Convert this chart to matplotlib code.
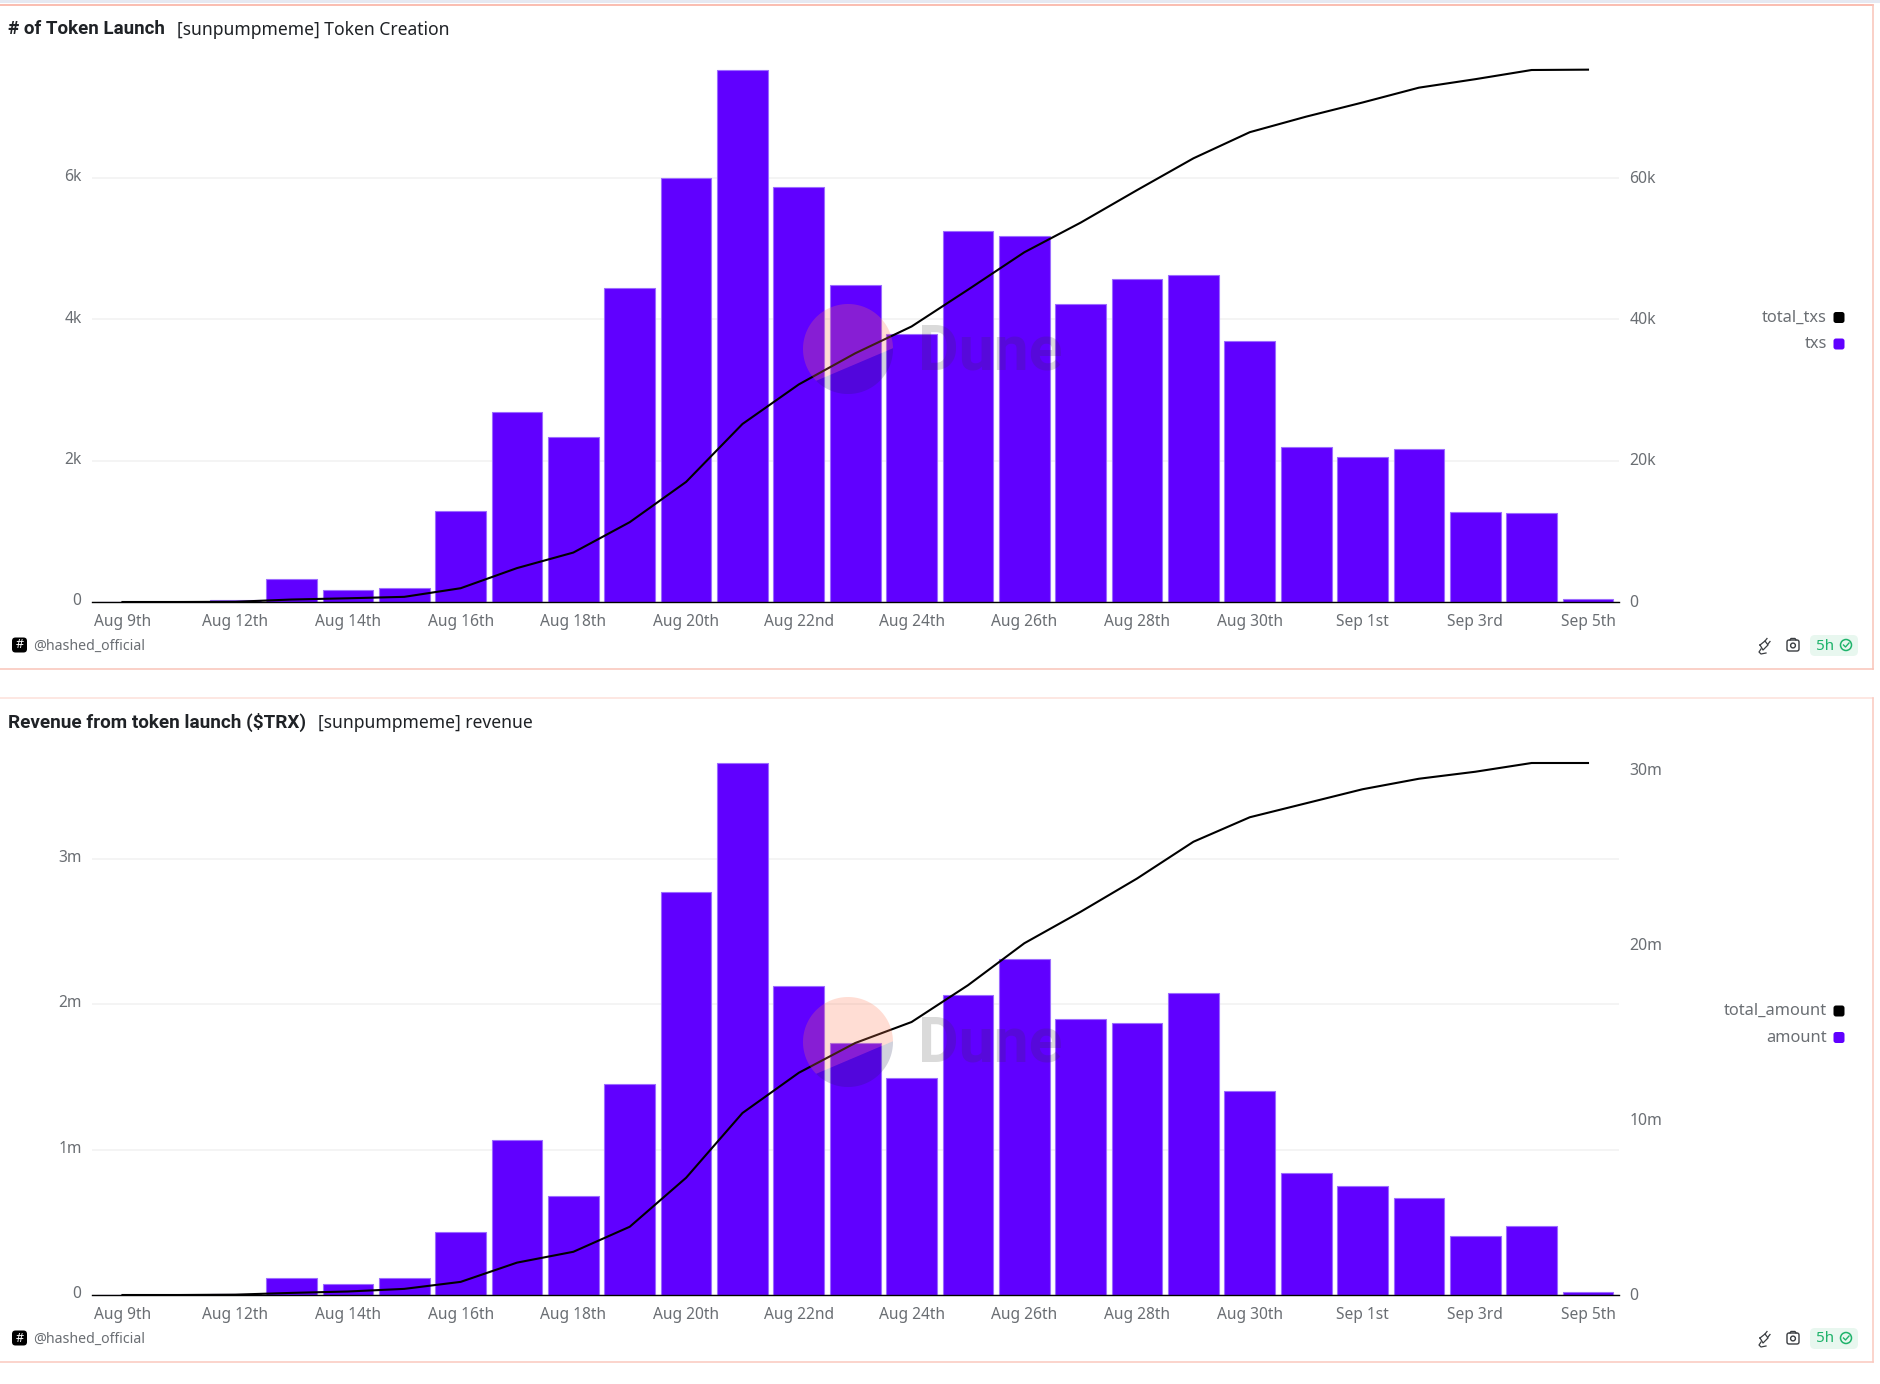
import numpy as np
import matplotlib
matplotlib.use('Agg')
import matplotlib.pyplot as plt
from matplotlib.patches import Circle, FancyBboxPatch, Polygon, Rectangle
from matplotlib.transforms import ScaledTranslation

plt.rcParams['font.family'] = ['Noto Sans', 'DejaVu Sans']

# categories (the dashboard skips a day after Aug 9th)
days = ['Aug 9th', 'Aug 11th', 'Aug 12th', 'Aug 13th', 'Aug 14th', 'Aug 15th', 'Aug 16th',
        'Aug 17th', 'Aug 18th', 'Aug 19th', 'Aug 20th', 'Aug 21st', 'Aug 22nd', 'Aug 23rd',
        'Aug 24th', 'Aug 25th', 'Aug 26th', 'Aug 27th', 'Aug 28th', 'Aug 29th', 'Aug 30th',
        'Aug 31st', 'Sep 1st', 'Sep 2nd', 'Sep 3rd', 'Sep 4th', 'Sep 5th']

# top chart
txs = [0, 0, 30, 320, 175, 205, 1290, 2695, 2340, 4450, 6005, 7535, 5875, 4480,
       3800, 5255, 5175, 4225, 4565, 4635, 3700, 2190, 2055, 2165, 1270, 1255, 40]
total_txs = [0, 0, 30, 350, 525, 730, 1950, 4800, 7000, 11300, 17000, 25200, 30800, 35200,
             39000, 44200, 49500, 53700, 58300, 62800, 66500, 68700, 70700, 72800, 74000,
             75300, 75350]

# bottom chart
amount = [0, 0, 8000, 115000, 74000, 115000, 430000, 1063000, 680000, 1450000, 2770000,
          3660000, 2127000, 1730000, 1490000, 2060000, 2310000, 1900000, 1870000, 2077000,
          1405000, 840000, 750000, 665000, 404000, 472000, 20000]
total_amount = [0, 0, 20000, 120000, 200000, 350000, 750000, 1850000, 2470000, 3900000,
                6700000, 10400000, 12700000, 14400000, 15600000, 17700000, 20100000,
                21900000, 23800000, 25900000, 27300000, 28100000, 28900000, 29500000,
                29900000, 30400000, 30400000]

W, H = 1880, 1384
PURPLE = '#6000ff'
GREY = '#6a6e73'
DARK = '#1f2226'

fig = plt.figure(figsize=(W / 100, H / 100), dpi=100, facecolor='white')


def make_chart(bars, line, left_ticks, left_labels, right_ticks, right_labels, y_zero, px_left, px_right):
    # px_left / px_right = pixels per unit on each y axis
    y_top = y_zero - 545
    ax = fig.add_axes([92 / W, 1 - y_zero / H, (1619 - 92) / W, (y_zero - y_top) / H])
    ax.set_facecolor('none')
    x = np.arange(len(days))
    ax.bar(x, bars, width=0.9, color=PURPLE, edgecolor='#9c6bff', linewidth=0.8, zorder=2)
    ax.set_xlim(-0.54, 26.55)
    ax.set_ylim(0, 545 / px_left)
    ax.set_xticks(x[::2])
    ax.set_xticklabels(days[::2])
    ax.set_yticks(left_ticks)
    ax.set_yticklabels(left_labels)
    ax.tick_params(axis='both', length=0, labelsize=11.2, labelcolor=GREY)
    ax.tick_params(axis='x', pad=8.5)
    ax.tick_params(axis='y', pad=7.5)
    ax.grid(axis='y', color='#f1f1f1', linewidth=1.1, zorder=0)
    ax.set_axisbelow(True)
    for s in ['top', 'left', 'right']:
        ax.spines[s].set_visible(False)
    ax.spines['bottom'].set_color('black')
    ax.spines['bottom'].set_linewidth(1.0)

    ax2 = ax.twinx()
    ax2.plot(x, line, color='black', linewidth=1.5, zorder=5, solid_joinstyle='round')
    ax2.set_ylim(0, 545 / px_right)
    ax2.set_yticks(right_ticks)
    ax2.set_yticklabels(right_labels)
    ax2.tick_params(axis='y', length=0, labelsize=11.4, labelcolor=GREY, pad=7.5)
    for s in ax2.spines.values():
        s.set_visible(False)

    # labels sit a little above their gridline
    up = ScaledTranslation(0, 2 / 72, fig.dpi_scale_trans)
    for lab in ax.get_yticklabels():
        lab.set_transform(lab.get_transform() + up)
    up2 = ScaledTranslation(0, 1 / 72, fig.dpi_scale_trans)
    for lab in ax2.get_yticklabels():
        lab.set_transform(lab.get_transform() + up2)


make_chart(txs, total_txs, [0, 2000, 4000, 6000], ['0', '2k', '4k', '6k'],
           [0, 20000, 40000, 60000], ['0', '20k', '40k', '60k'], 602, 70.65 / 1000, 7.065 / 1000)
make_chart(amount, total_amount, [0, 1e6, 2e6, 3e6], ['0', '1m', '2m', '3m'],
           [0, 1e7, 2e7, 3e7], ['0', '10m', '20m', '30m'], 1295, 145.4 / 1e6, 17.5 / 1e6)

# everything else goes on a full figure layer in pixel coordinates
top = fig.add_axes([0, 0, 1, 1], zorder=10)
top.set_xlim(0, W)
top.set_ylim(H, 0)
top.axis('off')
top.patch.set_alpha(0)

top.add_patch(Rectangle((0, 0), W, 2.5, facecolor='#e6e9f2', edgecolor='none'))


def panel(y0, y1, top_color, side_color):
    top.plot([0, 1873], [y0, y0], color=top_color, lw=1.1)
    top.plot([1873, 1873], [y0, y1], color=side_color, lw=1.1)
    top.plot([0, 1873], [y1, y1], color=side_color, lw=1.1)


panel(4.5, 669, '#f9ab9b', '#f9c3b8')
panel(698, 1362, '#fde0da', '#fbc9bf')


def watermark(cx, cy):
    r = 45
    ang = np.radians(np.linspace(-1, 135, 60))
    low = np.column_stack([cx + r * np.cos(ang), cy + r * np.sin(ang)])
    ang = np.radians(np.linspace(135, 359, 90))
    upp = np.column_stack([cx + r * np.cos(ang), cy + r * np.sin(ang)])
    top.add_patch(Polygon(upp, closed=True, facecolor='#ff7a55', edgecolor='none', alpha=0.25, zorder=3))
    top.add_patch(Polygon(low, closed=True, facecolor='#1a2050', edgecolor='none', alpha=0.2, zorder=3))
    top.text(cx + 70, cy + 3, 'Dune', fontsize=45, fontweight='bold', family='Roboto', color='#333333',
             alpha=0.18, ha='left', va='center', zorder=4)


watermark(848, 349)
watermark(848, 1042)


def legend(y, names, right=1827):
    for name, col, dy in zip(names, ['black', PURPLE], [0, 26.5]):
        top.text(right, y + dy, name, fontsize=11.8, color=GREY, ha='right', va='center')
        top.add_patch(FancyBboxPatch((right + 8, y + dy - 4), 8, 8, boxstyle='round,pad=1.5,rounding_size=2.5',
                                     facecolor=col, edgecolor='none'))


legend(317.5, ['total_txs', 'txs'])
legend(1011, ['total_amount', 'amount'])


def footer(y):
    top.add_patch(FancyBboxPatch((14, y - 5.5), 11, 11, boxstyle='round,pad=2,rounding_size=3.5',
                                 facecolor='black', edgecolor='none'))
    top.text(19.5, y, '#', color='white', fontsize=9, fontweight='bold', ha='center', va='center')
    top.text(33, y + 1, '@hashed_official', color=GREY, fontsize=10.2, ha='left', va='center')
    # plug icon
    ic = '#3a3d41'
    top.plot([1760, 1765, 1768, 1763, 1760], [645, 641, 645, 650, 645], color=ic, lw=0.9)
    top.plot([1765, 1767], [641, 638.5], color=ic, lw=0.9)
    top.plot([1768, 1770], [644, 641.5], color=ic, lw=0.9)
    top.plot([1761, 1759, 1761, 1766], [649, 652, 654, 653], color=ic, lw=0.9)
    # camera icon
    top.add_patch(FancyBboxPatch((1788, 641), 10, 9, boxstyle='round,pad=1,rounding_size=2',
                                 facecolor='none', edgecolor=ic, lw=1))
    top.add_patch(Circle((1793, 645.5), 2.4, facecolor='none', edgecolor=ic, lw=1))
    top.plot([1790, 1791, 1795, 1796], [640, 638.5, 638.5, 640], color=ic, lw=1)
    # freshness badge
    top.add_patch(FancyBboxPatch((1813, 638), 42, 15, boxstyle='round,pad=3,rounding_size=5',
                                 facecolor='#e8f7ef', edgecolor='none'))
    top.text(1816, y + 1, '5h', color='#1fb36b', fontsize=11, ha='left', va='center')
    top.add_patch(Circle((1846, y), 5.5, facecolor='none', edgecolor='#1fb36b', lw=1.1))
    top.plot([1843.5, 1845.5, 1849], [y, y + 2, y - 2], color='#1fb36b', lw=1)


footer(645)

# second footer: same drawing moved down by the panel offset
n_before = len(top.lines), len(top.patches), len(top.texts)
footer(645)
shift = matplotlib.transforms.Affine2D().translate(0, 693)
lines = list(top.lines)[n_before[0]:]
patches = list(top.patches)[n_before[1]:]
texts = list(top.texts)[n_before[2]:]
for art in lines + patches + texts:
    art.set_transform(shift + top.transData)

top.text(8, 29.5, '# of Token Launch', fontsize=13.5, fontweight='bold', family='Roboto', color=DARK, ha='left', va='center')
top.text(177, 30, '[sunpumpmeme] Token Creation', fontsize=12.6, color=DARK, ha='left', va='center')
top.text(8, 722, 'Revenue from token launch ($TRX)', fontsize=13.6, fontweight='bold', family='Roboto', color=DARK, ha='left', va='center')
top.text(318, 723, '[sunpumpmeme] revenue', fontsize=12.6, color=DARK, ha='left', va='center')

fig.savefig('out.png', dpi=100)
